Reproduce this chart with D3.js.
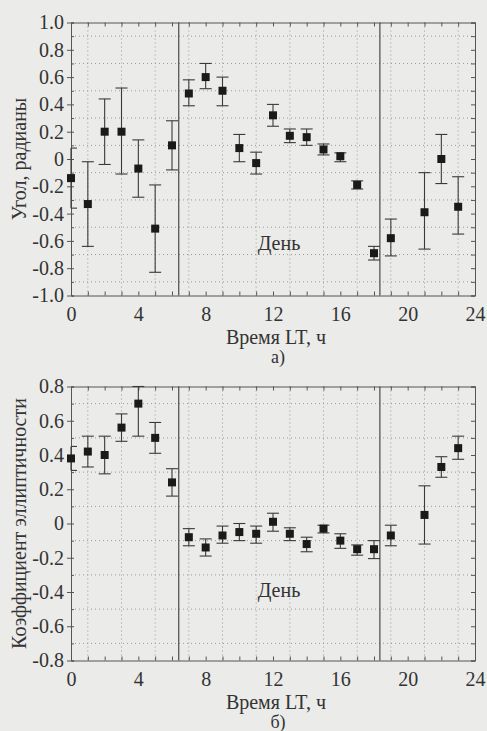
<!DOCTYPE html>
<html><head><meta charset="utf-8"><script src="https://cdn.jsdelivr.net/npm/d3@7"></script></head>
<body style="margin:0;background:#ebebe9">
<script>
// hours of the day
const hours = [0,1,2,3,4,5,6,7,8,9,10,11,12,13,14,15,16,17,18,19,21,22,23];

// panel a) angle, radians
const angle    = [-0.14,-0.33,0.20,0.20,-0.07,-0.51,0.10,0.48,0.60,0.50,0.08,-0.03,0.32,0.17,0.16,0.07,0.02,-0.19,-0.69,-0.58,-0.39,0.00,-0.35];
const angleTop = [0.08,-0.02,0.44,0.52,0.14,-0.19,0.28,0.58,0.70,0.60,0.18,0.05,0.40,0.22,0.22,0.11,0.045,-0.16,-0.64,-0.44,-0.10,0.18,-0.13];
const angleBot = [-0.36,-0.64,-0.04,-0.11,-0.28,-0.83,-0.08,0.39,0.515,0.39,-0.02,-0.11,0.24,0.12,0.10,0.03,-0.02,-0.22,-0.74,-0.71,-0.66,-0.18,-0.55];

// panel б) ellipticity coefficient
const ellip    = [0.38,0.42,0.40,0.56,0.70,0.50,0.24,-0.08,-0.14,-0.07,-0.05,-0.06,0.01,-0.06,-0.12,-0.03,-0.10,-0.15,-0.15,-0.07,0.05,0.33,0.44];
const ellipTop = [0.45,0.51,0.51,0.64,0.80,0.59,0.32,-0.03,-0.09,-0.015,0.00,-0.015,0.06,-0.025,-0.08,-0.01,-0.06,-0.125,-0.10,-0.01,0.22,0.39,0.51];
const ellipBot = [0.31,0.33,0.29,0.48,0.51,0.41,0.16,-0.13,-0.19,-0.115,-0.10,-0.115,-0.045,-0.10,-0.165,-0.055,-0.145,-0.185,-0.205,-0.13,-0.12,0.27,0.375];

// sunrise / sunset lines
const dayBounds = [6.4, 18.35];

const xTicks = [0,4,8,12,16,20,24];
const angleTicks = [-1,-0.8,-0.6,-0.4,-0.2,0,0.2,0.4,0.6,0.8,1];
const ellipTicks = [-0.8,-0.6,-0.4,-0.2,0,0.2,0.4,0.6,0.8];

const INK = "#333";
const AX = "#555";

const svg = d3.select("body").append("svg")
  .attr("width", 487).attr("height", 731)
  .attr("font-family", "Liberation Serif")
  .style("font-family", '"Liberation Serif"');

const fmt = d => d === 0 ? "0" : d3.format(".1f")(d).replace("\u2212", "-");

function serif(sel, size) {
  sel.attr("font-family", "Liberation Serif")
    .style("font-family", '"Liberation Serif"')
    .attr("font-size", size)
    .attr("fill", INK);
}

function axisLook(a) {
  a.attr("font-family", "Liberation Serif").attr("font-size", null);
  a.selectAll("path, line").attr("stroke", AX);
}

function panel(opts) {
  const { top, bottom, yDomain, yTicks, values, hi, lo, yLabel, dayY, letter } = opts;
  const x = d3.scaleLinear().domain([0, 24]).range([71, 475]);
  const y = d3.scaleLinear().domain(yDomain).range([bottom, top]);

  const g = svg.append("g");

  // dotted grid at odd hours and odd tenths
  const grid = g.append("g")
    .attr("stroke", "#9a9a9a").attr("stroke-dasharray", "1,3");
  grid.selectAll(".vg").data(d3.range(1, 24, 2)).enter().append("line")
    .attr("x1", d => x(d)).attr("x2", d => x(d))
    .attr("y1", top).attr("y2", bottom);
  const hy = d3.range(Math.round(yDomain[0] * 10) + 1, Math.round(yDomain[1] * 10), 2).map(d => d / 10);
  grid.selectAll(".hg").data(hy).enter().append("line")
    .attr("x1", x(0)).attr("x2", x(24))
    .attr("y1", d => y(d)).attr("y2", d => y(d));

  // axes
  const minorY = d3.range(Math.round(yDomain[0] * 10), Math.round(yDomain[1] * 10) + 1).map(d => d / 10);
  g.append("g")
    .attr("transform", `translate(0,${bottom})`)
    .call(d3.axisBottom(x).tickValues(d3.range(0, 25)).tickSize(-4).tickFormat(""))
    .call(axisLook);
  g.append("g")
    .attr("transform", `translate(0,${bottom})`)
    .call(d3.axisBottom(x).tickValues(xTicks).tickSize(0).tickPadding(11).tickFormat(d3.format("d")))
    .call(a => a.select(".domain").remove())
    .call(axisLook)
    .call(a => serif(a.selectAll("text"), 20));
  g.append("g")
    .attr("transform", `translate(0,${top})`)
    .call(d3.axisTop(x).tickValues(d3.range(0, 25)).tickSize(-4).tickFormat(""))
    .call(axisLook);
  g.append("g")
    .attr("transform", `translate(${x(0)},0)`)
    .call(d3.axisLeft(y).tickValues(minorY).tickSize(-3).tickFormat(""))
    .call(axisLook);
  g.append("g")
    .attr("transform", `translate(${x(0)},0)`)
    .call(d3.axisLeft(y).tickValues(yTicks).tickSize(4).tickPadding(3).tickFormat(fmt))
    .call(a => a.select(".domain").remove())
    .call(axisLook)
    .call(a => serif(a.selectAll("text"), 20));
  g.append("g")
    .attr("transform", `translate(${x(24)},0)`)
    .call(d3.axisRight(y).tickValues(minorY).tickSize(-4).tickFormat(""))
    .call(axisLook);

  // day boundaries
  g.selectAll(".bound").data(dayBounds).enter().append("line")
    .attr("x1", d => x(d)).attr("x2", d => x(d))
    .attr("y1", top).attr("y2", bottom)
    .attr("stroke", "#4a4a4a").attr("stroke-width", 1.2);

  // error bars
  const pts = hours.map((h, i) => ({ h, v: values[i], hi: hi[i], lo: lo[i] }));
  const eb = g.selectAll(".eb").data(pts).enter().append("g")
    .attr("stroke", "#3a3a3a").attr("stroke-width", 1.1);
  eb.append("line")
    .attr("x1", d => x(d.h)).attr("x2", d => x(d.h))
    .attr("y1", d => y(Math.min(d.hi, yDomain[1]))).attr("y2", d => y(d.lo));
  eb.append("line")
    .attr("x1", d => Math.max(x(d.h) - 6, x(0))).attr("x2", d => x(d.h) + 6)
    .attr("y1", d => y(Math.min(d.hi, yDomain[1]))).attr("y2", d => y(Math.min(d.hi, yDomain[1])));
  eb.append("line")
    .attr("x1", d => Math.max(x(d.h) - 6, x(0))).attr("x2", d => x(d.h) + 6)
    .attr("y1", d => y(d.lo)).attr("y2", d => y(d.lo));

  // markers
  g.selectAll(".pt").data(pts).enter().append("rect")
    .attr("x", d => x(d.h) - 4).attr("y", d => y(d.v) - 4)
    .attr("width", 8).attr("height", 8)
    .attr("fill", "#1a1a1a");

  // labels
  g.append("text")
    .attr("x", 279).attr("y", y(dayY))
    .attr("text-anchor", "middle")
    .call(serif, 20)
    .text("День");
  g.append("text")
    .attr("x", 276).attr("y", bottom + 48)
    .attr("text-anchor", "middle")
    .call(serif, 20)
    .text("Время LT, ч");
  g.append("text")
    .attr("transform", `translate(26,${(top + bottom) / 2}) rotate(-90)`)
    .attr("text-anchor", "middle")
    .call(serif, 20)
    .text(yLabel);
  g.append("text")
    .attr("x", 278).attr("y", bottom + 67)
    .attr("text-anchor", "middle")
    .call(serif, 18)
    .text(letter);
}

panel({
  top: 22.5, bottom: 295.5, yDomain: [-1, 1], yTicks: angleTicks,
  values: angle, hi: angleTop, lo: angleBot,
  yLabel: "Угол, радианы", dayY: -0.67, letter: "а)"
});

panel({
  top: 386.5, bottom: 660.5, yDomain: [-0.8, 0.8], yTicks: ellipTicks,
  values: ellip, hi: ellipTop, lo: ellipBot,
  yLabel: "Коэффициент эллиптичности", dayY: -0.43, letter: "б)"
});
</script>
</body>
</html>
